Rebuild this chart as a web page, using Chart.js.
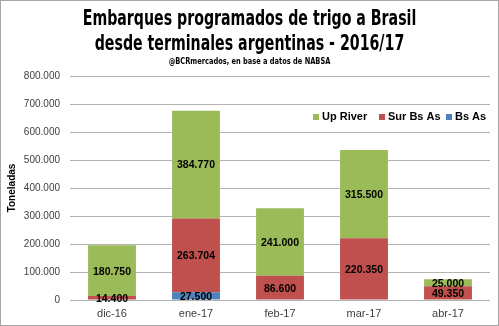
<!DOCTYPE html>
<html>
<head>
<meta charset="utf-8">
<script src="https://cdn.jsdelivr.net/npm/chart.js@4.4.1/dist/chart.umd.min.js"></script>
<style>
  html, body { margin: 0; padding: 0; background: #fff; }
  #wrap { position: relative; width: 499px; height: 326px; box-sizing: border-box; border: 1px solid #a6a6a6; }
  canvas { display: block; }
  .title { position: absolute; left: 0; width: 497px; text-align: center; color: #000; font-weight: bold;
           font-family: 'DejaVu Sans Condensed', 'DejaVu Sans', sans-serif; white-space: nowrap; }
  .t1 { top: 5px; font-size: 21px; line-height: 25px; transform: scaleX(0.75); }
  .sub { top: 55px; font-size: 9px; line-height: 11px; transform: scaleX(0.82); }
</style>
</head>
<body>
<div id="wrap">
  <canvas id="chart" width="497" height="324"></canvas>
  <div class="title t1">Embarques programados de trigo a Brasil<br>desde terminales argentinas - 2016/17</div>
  <div class="title sub">@BCRmercados, en base a datos de NABSA</div>
</div>
<script>
  // Embarques programados de trigo a Brasil
  const categories = ["dic-16", "ene-17", "feb-17", "mar-17", "abr-17"];
  const bsAs = [0, 27500, 0, 0, 0];
  const surBsAs = [14400, 263704, 86600, 220350, 49350];
  const upRiver = [180750, 384770, 241000, 315500, 25000];
  const yTicks = [0, 100000, 200000, 300000, 400000, 500000, 600000, 700000, 800000];

  const fmt = (v) => (v === 0 ? "0" : v.toLocaleString("de-DE"));
  const baseFont = "'Liberation Sans', Arial, sans-serif";

  const barLabels = {
    id: "barLabels",
    afterDatasetsDraw(chart) {
      const ctx = chart.ctx;
      ctx.save();
      ctx.font = "bold 10.5px " + baseFont;
      ctx.fillStyle = "#000";
      ctx.textAlign = "center";
      ctx.textBaseline = "middle";
      chart.data.datasets.forEach((ds, i) => {
        chart.getDatasetMeta(i).data.forEach((bar, j) => {
          const v = ds.data[j];
          if (!v) return;
          ctx.fillText(fmt(v), bar.x, (bar.y + bar.base) / 2 + 1);
        });
      });
      ctx.restore();
    },
  };

  // legend inside the plot, top right
  const insideLegend = {
    id: "insideLegend",
    afterDraw(chart) {
      const ctx = chart.ctx;
      const items = [
        { text: "Up River", color: "#9BBB59", x: 312 },
        { text: "Sur Bs As", color: "#C0504D", x: 378 },
        { text: "Bs As", color: "#4F81BD", x: 445 },
      ];
      ctx.save();
      ctx.font = "bold 11px " + baseFont;
      ctx.textBaseline = "middle";
      items.forEach((it) => {
        ctx.fillStyle = it.color;
        ctx.fillRect(it.x, 113, 6, 6);
        ctx.fillStyle = "#000";
        ctx.fillText(it.text, it.x + 9, 116);
      });
      ctx.restore();
    },
  };

  new Chart(document.getElementById("chart"), {
    type: "bar",
    data: {
      labels: categories,
      datasets: [
        { label: "Bs As", data: bsAs, backgroundColor: "#4F81BD" },
        { label: "Sur Bs As", data: surBsAs, backgroundColor: "#C0504D" },
        { label: "Up River", data: upRiver, backgroundColor: "#9BBB59" },
      ],
    },
    options: {
      responsive: false,
      animation: false,
      layout: { padding: { left: 0, right: 8, top: 75, bottom: 0 } },
      datasets: { bar: { categoryPercentage: 1, barPercentage: 0.57 } },
      plugins: {
        legend: { display: false },
        tooltip: { enabled: false },
      },
      scales: {
        x: {
          stacked: true,
          grid: { display: false, drawTicks: false },
          border: { display: false },
          ticks: { color: "#404040", font: { family: baseFont, size: 11 }, padding: 7 },
          afterFit(scale) { scale.height = 25; },
        },
        y: {
          stacked: true,
          min: 0,
          max: 800000,
          afterBuildTicks(axis) {
            axis.ticks = yTicks.map((v) => ({ value: v }));
          },
          afterFit(scale) { scale.width = 69; },
          grid: { color: "#b3b3b3", drawTicks: false },
          border: { display: false },
          ticks: {
            color: "#404040",
            font: { family: baseFont, size: 10 },
            padding: 10,
            callback: (v) => fmt(v),
          },
          title: {
            display: true,
            text: "Toneladas",
            color: "#000",
            font: { family: baseFont, size: 10, weight: "bold" },
            padding: { top: 5, bottom: 0 },
          },
        },
      },
    },
    plugins: [barLabels, insideLegend],
  });
</script>
</body>
</html>
